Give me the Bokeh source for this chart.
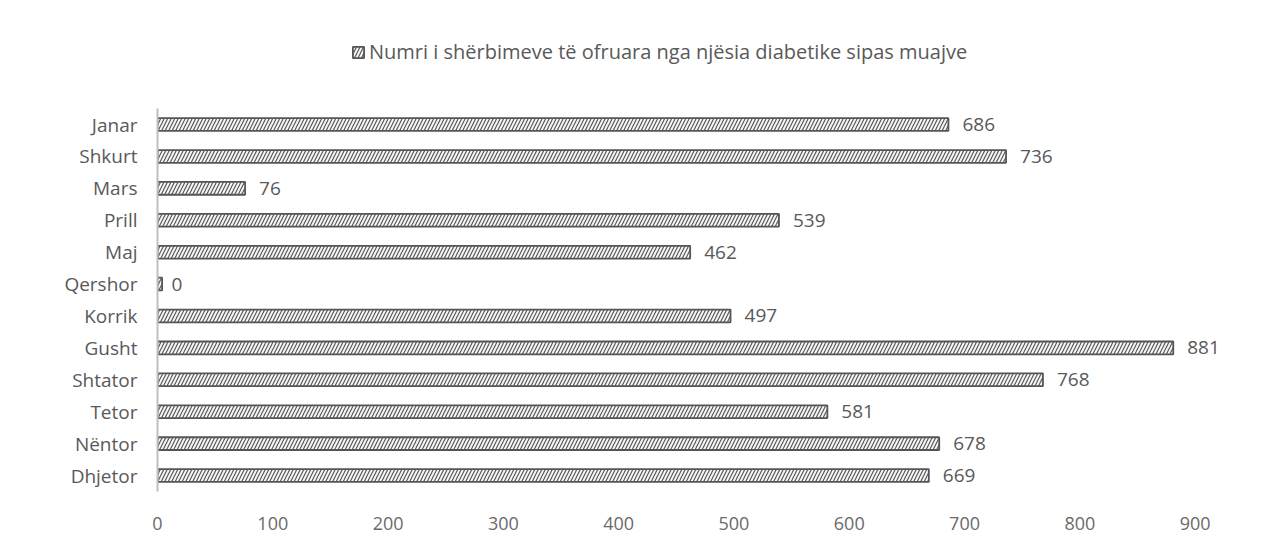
from bokeh.plotting import figure
from bokeh.models import ColumnDataSource, Range1d, Legend, LegendItem, FixedTicker
from bokeh.core.properties import value
from bokeh.embed import file_html
from bokeh.resources import INLINE

months = ["Janar", "Shkurt", "Mars", "Prill", "Maj", "Qershor", "Korrik",
          "Gusht", "Shtator", "Tetor", "Nëntor", "Dhjetor"]
services = [686, 736, 76, 539, 462, 0, 497, 881, 768, 581, 678, 669]
series_name = "Numri i shërbimeve të ofruara nga njësia diabetike sipas muajve"
x_ticks = [0, 100, 200, 300, 400, 500, 600, 700, 800, 900]

n = len(months)
ypos = [n - 1 - i for i in range(n)]  # Janar at top
src = ColumnDataSource(dict(
    y=ypos, v=services, lbl=[str(s) for s in services],
    w=[max(s, 4) for s in services],
))

FONT = "Open Sans"
GRAY = "#595959"

p = figure(
    y_range=Range1d(-0.5, n - 0.5 + 2.76),
    x_range=Range1d(0, 935),
    frame_width=1078, frame_height=471,
    min_border_left=157, min_border_right=24, min_border_top=20, min_border_bottom=51,
    output_backend="svg", toolbar_location=None,
    background_fill_color="white", border_fill_color="white",
)
p.outline_line_color = None

r = p.hbar(y="y", right="w", left=0, height=0.4, source=src,
           fill_color="#f7f7f7", line_color="#555555", line_width=1.8,
           hatch_pattern="/", hatch_color="#5a5a5a", hatch_scale=7, hatch_weight=1.2)

p.text(x="v", y="y", text="lbl", source=src, x_offset=14,
       text_baseline="middle", text_align="left",
       text_font=value(FONT), text_font_size="19px", text_color=GRAY)

p.xgrid.grid_line_color = None
p.ygrid.grid_line_color = None

p.xaxis.ticker = FixedTicker(ticks=x_ticks)
p.xaxis.axis_line_color = None
p.xaxis.major_tick_line_color = None
p.xaxis.minor_tick_line_color = None
p.xaxis.major_label_standoff = 19
p.xaxis.major_label_text_font = FONT
p.xaxis.major_label_text_font_size = "18px"
p.xaxis.major_label_text_color = "#6a6a6a"

p.yaxis.ticker = FixedTicker(ticks=ypos)
p.yaxis.major_label_overrides = {yv: m for yv, m in zip(ypos, months)}
p.yaxis.bounds = (-0.5, n - 0.5)
p.yaxis.axis_line_color = "#bfbfbf"
p.yaxis.axis_line_width = 2
p.yaxis.major_tick_line_color = None
p.yaxis.minor_tick_line_color = None
p.yaxis.major_label_standoff = 14
p.yaxis.major_label_text_font = FONT
p.yaxis.major_label_text_font_size = "19px"
p.yaxis.major_label_text_color = GRAY

legend = Legend(items=[LegendItem(label=series_name, renderers=[r])],
                location=(194, 426), orientation="horizontal",
                border_line_color=None, background_fill_alpha=0,
                label_text_font=FONT, label_text_font_size="20px",
                label_text_color=GRAY, glyph_width=14, glyph_height=14,
                label_standoff=4, padding=4, margin=0)
p.add_layout(legend, "center")

open("out.html", "w").write(file_html(p, INLINE))
